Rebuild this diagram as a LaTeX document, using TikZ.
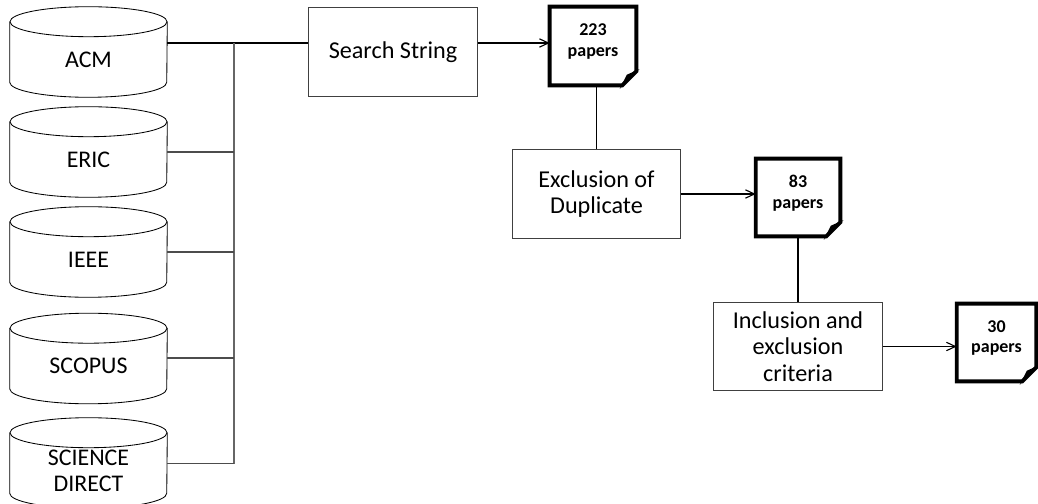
\documentclass[tikz,border=0pt]{standalone}
\usepackage{fontspec}
\setmainfont{Carlito}
\usetikzlibrary{positioning}
\usetikzlibrary{arrows.meta}

\begin{document}
\begin{tikzpicture}[x=0.025cm, y=-0.025cm,
				dbnode/.style={rectangle, minimum width=3.925cm, minimum height=1.875cm, inner sep=0pt, align=center, font=\fontsize{17}{18.5}\selectfont},
				dbline/.style={line width=0.6pt},
				stepbox/.style={rectangle, draw=black!75, line width=0.7pt, minimum width=4.2cm, minimum height=2.2cm, align=center, font=\fontsize{17.2}{18.9}\selectfont},
				docnode/.style={rectangle, minimum width=2.15cm, minimum height=1.95cm, inner sep=0pt, text depth=8.5pt, align=center, font=\bfseries\fontsize{12.8}{14.8}\selectfont},
				docline/.style={line width=2.8pt, line join=miter},
				link/.style={line width=0.8pt},
				>={Straight Barb[length=6.4pt, width=6pt]},
				]
				\useasboundingbox (0,0) rectangle (1038,504);
				%Databases
				\node[dbnode]      (acm)    at  (88.5,59.5)   {ACM};
				\node[dbnode]      (eric)   at  (88.5,159.5)  {ERIC};
				\node[dbnode]      (ieee)   at  (88.5,259.5)  {IEEE};
				\node[dbnode]      (scopus) at  (88.5,366)    {SCOPUS};
				\node[dbnode]      (sd)     at  (88.5,470.5)  {SCIENCE\\DIRECT};

				\foreach \db in {acm,eric,ieee,scopus,sd}{
					\draw[dbline] (\db.north west) -- ([shift={(0,-15)}]\db.south west) arc[start angle=180, end angle=360, x radius=1.9625cm, y radius=0.375cm] -- (\db.north east);
					\draw[dbline] (\db.north) ellipse[x radius=1.9625cm, y radius=0.375cm];
				}

				%Steps
				\node[stepbox]     (search) at  (393,52)      {Search String};
				\node[stepbox, minimum width=4.175cm] (excl) at (596.5,194) {Exclusion of\\Duplicate};
				\node[stepbox, minimum height=2.175cm] (incl) at (798,346.5) {Inclusion and\\exclusion\\criteria};

				%Documents
				\node[docnode]     (d1)     at  (593,46)      {223\\papers};
				\node[docnode, minimum width=2.1cm, minimum height=1.925cm] (d2) at (798,197.5) {83\\papers};
				\node[docnode, minimum width=1.975cm, minimum height=1.925cm] (d3) at (996.5,342.5) {30\\papers};

				\draw[docline] (d1.north west) -- (d1.north east) -- ([shift={(0,-14)}]d1.south east) -- ([shift={(-14,0)}]d1.south east) -- (d1.south west) -- cycle;
				\filldraw[line width=1pt] ([shift={(0,-14)}]d1.south east) -- ([shift={(-9,-10)}]d1.south east) -- ([shift={(-14,0)}]d1.south east) -- cycle;
				\draw[docline] (d2.north west) -- (d2.north east) -- ([shift={(0,-14)}]d2.south east) -- ([shift={(-14,0)}]d2.south east) -- (d2.south west) -- cycle;
				\filldraw[line width=1pt] ([shift={(0,-14)}]d2.south east) -- ([shift={(-9,-10)}]d2.south east) -- ([shift={(-14,0)}]d2.south east) -- cycle;
				\draw[docline] (d3.north west) -- (d3.north east) -- ([shift={(0,-14)}]d3.south east) -- ([shift={(-14,0)}]d3.south east) -- (d3.south west) -- cycle;
				\filldraw[line width=1pt] ([shift={(0,-14)}]d3.south east) -- ([shift={(-9,-10)}]d3.south east) -- ([shift={(-14,0)}]d3.south east) -- cycle;

				%Lines
				\coordinate (bus) at (234,43);
				\coordinate (sdjoin) at ([shift={(0,-7)}]sd.east);
				\draw[link] (acm.east |- bus) -- (search.west |- bus);
				\draw[link, draw=black!60] (bus) -- (bus |- sdjoin);
				\draw[link, draw=black!70] ([shift={(0,-7.5)}]eric.east) -- ([shift={(0,-7.5)}]eric.east -| bus);
				\draw[link, draw=black!70] ([shift={(0,-7.5)}]ieee.east) -- ([shift={(0,-7.5)}]ieee.east -| bus);
				\draw[link, draw=black!70] ([shift={(0,-8)}]scopus.east) -- ([shift={(0,-8)}]scopus.east -| bus);
				\draw[link, draw=black!70] (sdjoin) -- (sdjoin -| bus);

				\draw[link, ->] (search.east |- bus) -- (d1.west |- bus);
				\draw[link, ->] (excl.east) -- (excl.east -| d2.west);
				\draw[link, ->] (incl.east) -- (incl.east -| d3.west);
				\draw[link] (d1.south -| excl.north) -- (excl.north);
				\draw[link] (d2.south -| incl.north) -- (incl.north);
\end{tikzpicture}
\end{document}
